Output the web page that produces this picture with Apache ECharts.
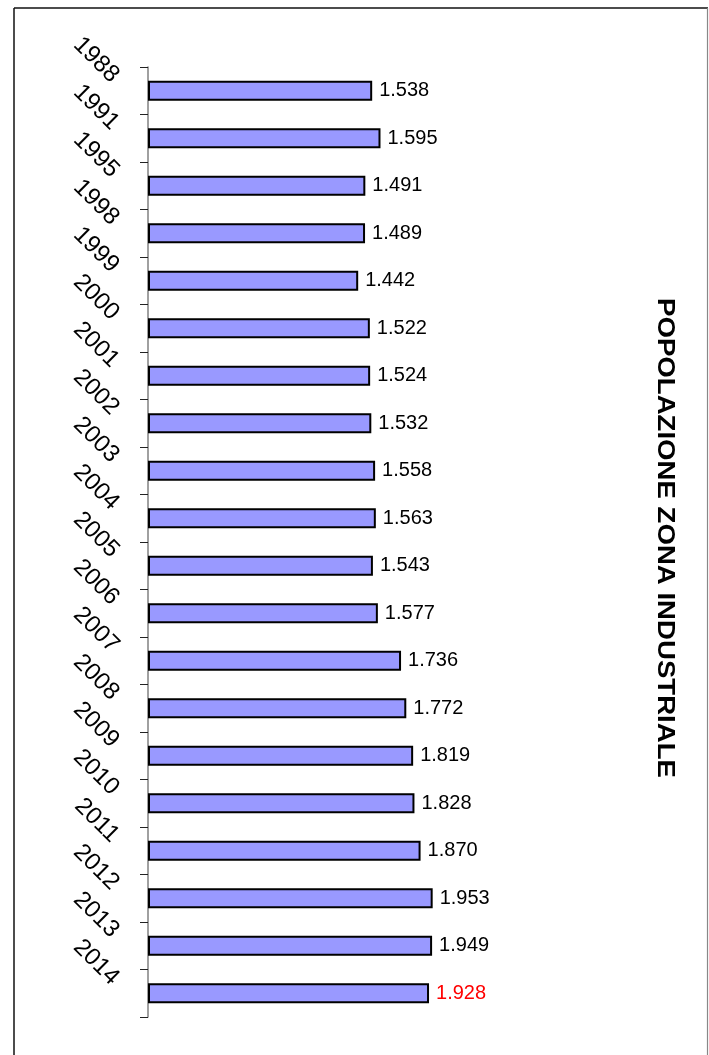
<!DOCTYPE html>
<html>
<head>
<meta charset="utf-8">
<script src="https://cdn.jsdelivr.net/npm/echarts@6/dist/echarts.min.js"></script>
<style>
html,body{margin:0;padding:0;background:#fff;}
#chart{width:709px;height:1055px;}
</style>
</head>
<body>
<div id="chart"></div>
<script>
const years = ['1988','1991','1995','1998','1999','2000','2001','2002','2003','2004','2005','2006','2007','2008','2009','2010','2011','2012','2013','2014'];
const population = [1538,1595,1491,1489,1442,1522,1524,1532,1558,1563,1543,1577,1736,1772,1819,1828,1870,1953,1949,1928];
const highlightIndex = 19;
const title = 'POPOLAZIONE ZONA INDUSTRIALE';

function fmt(v){ return (v/1000).toFixed(3); }

const chart = echarts.init(document.getElementById('chart'), null, {renderer:'canvas'});
chart.setOption({
  animation:false,
  backgroundColor:'#ffffff',
  grid:[
    {left:148, top:67, width:430, height:950},
    {left:148, top:55, width:430, height:950}
  ],
  xAxis:[
    {gridIndex:0, type:'value', min:0, max:2950, show:false},
    {gridIndex:1, type:'value', min:0, max:2950, show:false}
  ],
  yAxis:[
    {gridIndex:0, type:'category', data:years, inverse:true,
     axisLine:{show:true, lineStyle:{color:'#808080', width:1.5}},
     axisTick:{show:true, length:8, lineStyle:{color:'#222', width:1}},
     axisLabel:{show:false},
     splitLine:{show:false}},
    {gridIndex:1, type:'category', data:years, inverse:true,
     axisLine:{show:false}, axisTick:{show:false}, splitLine:{show:false},
     axisLabel:{show:true, rotate:-45, margin:33, color:'#000',
       fontFamily:'Liberation Sans', fontSize:24}}
  ],
  series:[{
    type:'bar', xAxisIndex:0, yAxisIndex:0,
    data: population.map((v,i)=>({value:v, label:{color: i===highlightIndex ? '#ff0000' : '#000'}})),
    barWidth:20,
    itemStyle:{color:'#9999ff', borderColor:'#000', borderWidth:2},
    label:{show:true, position:'right', distance:7, fontFamily:'Liberation Sans', fontSize:20,
      formatter:(p)=>fmt(p.value)}
  }],
  graphic:[
    {type:'line', shape:{x1:14, y1:8, x2:14, y2:1060}, style:{stroke:'#111', lineWidth:1.5}, silent:true},
    {type:'line', shape:{x1:14, y1:8, x2:708, y2:8}, style:{stroke:'#111', lineWidth:1.5}, silent:true},
    {type:'line', shape:{x1:707.5, y1:8, x2:707.5, y2:1060}, style:{stroke:'#888', lineWidth:1.2}, silent:true},
    {type:'text', x:664, y:538, rotation:-Math.PI/2, scaleX:1.2, scaleY:1,
     style:{text:title, font:'bold 23px "Liberation Sans"', fill:'#000', textAlign:'center', textVerticalAlign:'middle'}}
  ]
});
</script>
</body>
</html>
